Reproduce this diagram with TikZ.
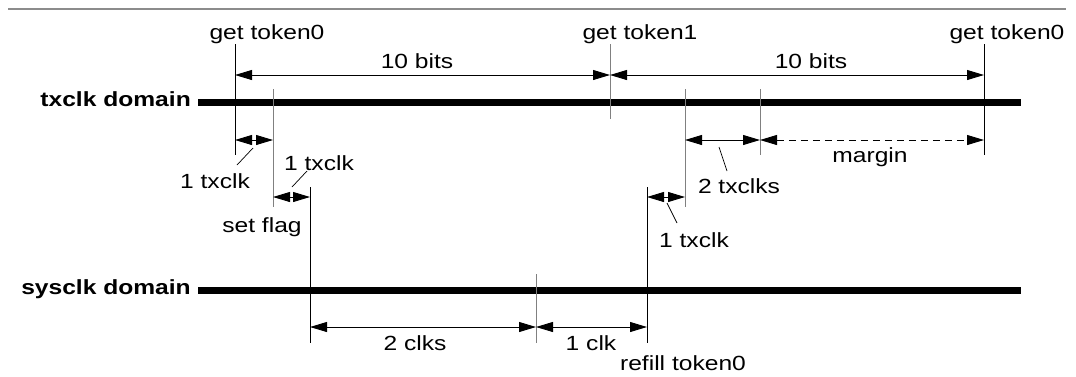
\documentclass[tikz,border=0pt]{standalone}
\usepackage{fontspec}
\setmainfont{Liberation Sans}[FakeStretch=1.2]
\usetikzlibrary{arrows.meta}

\begin{document}
\begin{tikzpicture}[x=1pt,y=-1pt,
	every node/.style={inner sep=0pt,font=\fontsize{20.5}{24}\selectfont},
	clkbar/.style={line width=7pt},
	hardedge/.style={black,line width=1pt},
	softedge/.style={black!50,line width=1pt},
	dimarrow/.style={line width=0.9pt,{Triangle[length=17pt,width=10pt]}-{Triangle[length=17pt,width=10pt]}},
	leader/.style={line width=0.7pt}]
	\useasboundingbox (0,0) rectangle (1076,376);
	\draw[black!45,line width=2pt] (8,9) -- (1066,9);
	% clock domains
	\node[anchor=base east,font=\fontsize{20.5}{24}\selectfont\bfseries] (txdom) at (191,106) {txclk domain};
	\node[anchor=base east,font=\fontsize{20.5}{24}\selectfont\bfseries] (sysdom) at (191,294) {sysclk domain};
	\coordinate (txend) at (1021,102);
	\coordinate (sysend) at (1021,290);
	\draw[clkbar] (txdom.east |- txend) ++(7,0) -- (txend);
	\draw[clkbar] (sysdom.east |- sysend) ++(7,0) -- (sysend);
	% edges
	\foreach \n/\x/\ya/\yb/\s in {a/235/44/155/hardedge, b/273/89/207/softedge, c/310/187/343/hardedge,
		d/610/44/119/softedge, e/685/89/207/softedge, f/760/89/155/softedge,
		g/984/44/155/hardedge, h/647/187/343/hardedge, k/536/274/343/softedge}
		\draw[\s] (\x,\ya) coordinate (\n top) -- (\x,\yb) coordinate (\n bot);
	% intervals
	\draw[dimarrow] (atop |- 0,75) -- (dtop |- 0,75);
	\draw[dimarrow] (dtop |- 0,75) -- (gtop |- 0,75);
	\draw[dimarrow] (atop |- 0,140) -- (btop |- 0,140);
	\draw[dimarrow] (btop |- 0,197) -- (ctop |- 0,197);
	\draw[dimarrow] (etop |- 0,140) -- (ftop |- 0,140);
	\draw[dimarrow,dash pattern=on 7pt off 5pt] (ftop |- 0,140) -- (gtop |- 0,140);
	\draw[dimarrow] (htop |- 0,197) -- (etop |- 0,197);
	\draw[dimarrow] (ctop |- 0,327) -- (ktop |- 0,327);
	\draw[dimarrow] (ktop |- 0,327) -- (htop |- 0,327);
	% labels
	\node[anchor=base] (tok0) at (267,39) {get token0};
	\node[anchor=base] (tok1) at (640,39) {get token1};
	\node[anchor=base] (tok0b) at (1007,39) {get token0};
	\node[anchor=base] (bitsa) at (417,68) {10 bits};
	\node[anchor=base] (bitsb) at (811,68) {10 bits};
	\node[anchor=base] (txa) at (215,188) {1 txclk};
	\node[anchor=base] (txb) at (319,170) {1 txclk};
	\node[anchor=base] (flag) at (262,232) {set flag};
	\node[anchor=base] (txc) at (739,193) {2 txclks};
	\node[anchor=base] (marg) at (870,162) {margin};
	\node[anchor=base] (txd) at (694,247) {1 txclk};
	\node[anchor=base] (clka) at (415,350) {2 clks};
	\node[anchor=base] (clkb) at (591,350) {1 clk};
	\node[anchor=base] (refill) at (683,370) {refill token0};
	% leaders
	\draw[leader] (253,148) -- (237,165);
	\draw[leader] (292,187) -- (307,171);
	\draw[leader] (719,147) -- (727,171);
	\draw[leader] (667,203) -- (677,223);
\end{tikzpicture}
\end{document}
